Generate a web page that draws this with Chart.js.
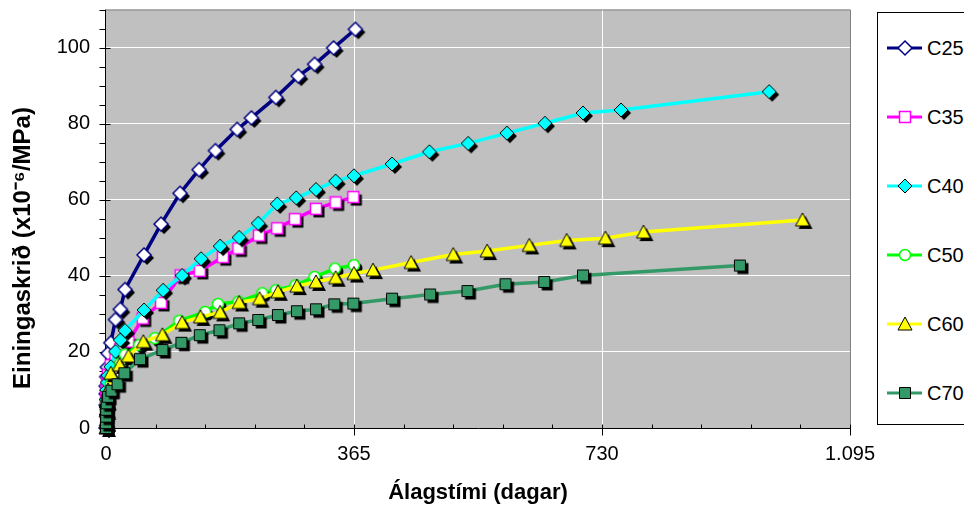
<!DOCTYPE html>
<html><head><meta charset="utf-8">
<script src="https://cdn.jsdelivr.net/npm/chart.js@4"></script>
<style>
html,body{margin:0;padding:0;background:#fff;}
#wrap{position:relative;width:964px;height:506px;overflow:hidden;}
#c{position:absolute;left:0;top:0;}
#legend{position:absolute;left:877px;top:12px;width:120px;height:413px;border:1px solid #000;background:#fff;box-sizing:border-box;}
.lc{position:absolute;left:886px;}
.lt{position:absolute;left:927px;font:20px "Liberation Sans",Arial,sans-serif;line-height:24px;color:#000;white-space:nowrap;}
</style></head><body>
<div id="wrap"><canvas id="c" width="964" height="506"></canvas><div id="legend"></div></div>
<script>
// ---- data ----
const seriesNames = ['C25','C35','C40','C50','C60','C70'];
const c25Days   = [0,0.04,0.1,0.25,1,2,3,7,14,21,28,56,81,109,137,161,193,214,250,283,307,335,367];
const c25Values = [0,6,9,11,13.5,16,19.6,22.4,28.5,31.2,36.4,45.5,53.6,61.7,67.9,72.9,78.5,81.5,86.9,92.5,95.6,99.9,104.8];
const c35Days   = [0,0.04,0.1,0.25,1,2,3,7,14,21,33,54,81,110,138,172,195,225,252,278,309,338,364];
const c35Values = [0,4,6,8,10.5,12.5,14,16.5,19,20.8,22.7,28.8,32.9,40.1,41.3,44.9,47.2,50.6,52.5,54.9,57.6,59.3,60.7];
const c40Days   = [0,0.04,0.1,0.25,1,2,3,7,14,21,28,56,84,112,140,168,196,224,252,280,309,338,365,421,476,533,590,646,702,758,976];
const c40Values = [0,3.5,5.5,7.5,10,12,13.8,16.1,20.1,23.1,25.6,31.0,36.2,40.1,44.5,47.8,50.1,53.8,58.9,60.5,62.7,64.9,66.3,69.4,72.6,74.8,77.5,80.1,82.8,83.6,88.4];
const c50Days   = [0,0.04,0.25,1,3,7,14,21,28,49,72,108,146,165,195,230,250,279,307,337,365];
const c50Values = [0,2.5,4.5,6.5,9,11.5,14.5,17,19.3,21.8,23.6,28.2,30.5,32.6,33.2,35.4,36.2,37.5,39.7,41.9,42.8];
const c60Days   = [0,0.04,0.25,1,3,7,20,33,55,83,112,139,168,196,226,253,281,309,338,365,393,449,511,561,623,678,735,791,1025];
const c60Values = [0,2,4.5,7,10,14.4,16.6,18.9,22.7,24.5,27.7,29.2,30.4,33.0,34.0,35.8,37.3,38.4,39.5,40.6,41.5,43.5,45.6,46.5,48.0,49.3,49.9,51.5,54.7];
const c70Days   = [0,0.04,0.1,0.25,1,3,8,17,27,50,83,111,138,167,196,224,253,281,309,336,364,421,477,532,588,645,702,933];
const c70Values = [0,1.3,3.0,4.8,6.5,8.2,9.8,11.5,14.4,18.1,20.5,22.4,24.4,25.7,27.5,28.4,29.7,30.7,31.2,32.5,32.7,34.0,35.1,36.0,37.8,38.4,40.1,42.7];
const xTickValues = [0,365,730,1095];
const xTickLabels = ['0','365','730','1.095'];
const yTickValues = [0,20,40,60,80,100];
const yTickLabels = ['0','20','40','60','80','100'];
const xTitle = 'Álagstími (dagar)';
const yTitle = 'Einingaskrið (x10⁻⁶/MPa)';

// ---- styles ----
const FONT = '"Liberation Sans", Arial, sans-serif';
const styles = [
  {line:'#000080', shape:'diamond',  fill:'#FFFFFF', stroke:'#000080', size:14},
  {line:'#FF00FF', shape:'square',   fill:'#FFFFFF', stroke:'#FF00FF', size:12},
  {line:'#00FFFF', shape:'diamond',  fill:'#00FFFF', stroke:'#000000', size:14},
  {line:'#00FF00', shape:'circle',   fill:'#FFFFFF', stroke:'#00FF00', size:12},
  {line:'#FFFF00', shape:'triangle', fill:'#FFFF00', stroke:'#000000', size:14},
  {line:'#339966', shape:'square',   fill:'#339966', stroke:'#000000', size:12}
];
const allDays = [c25Days,c35Days,c40Days,c50Days,c60Days,c70Days];
const allValues = [c25Values,c35Values,c40Values,c50Values,c60Values,c70Values];

function makeMarker(st, shadow) {
  const pad = 5;
  const dim = st.size + 2*pad;
  const cv = document.createElement('canvas'); cv.width = dim; cv.height = dim;
  const g = cv.getContext('2d');
  const cx = dim/2, cy = dim/2, h = st.size/2;
  const path = (ox, oy) => {
    g.beginPath();
    const x = cx+ox, y = cy+oy;
    if (st.shape === 'diamond') { g.moveTo(x, y-h); g.lineTo(x+h, y); g.lineTo(x, y+h); g.lineTo(x-h, y); g.closePath(); }
    else if (st.shape === 'square') { g.rect(x-h+0.5, y-h+0.5, st.size-1, st.size-1); }
    else if (st.shape === 'circle') { g.arc(x, y, h-0.5, 0, Math.PI*2); }
    else { g.moveTo(x, y-h); g.lineTo(x+h, y+h-1); g.lineTo(x-h, y+h-1); g.closePath(); }
  };
  if (shadow) { path(3, 3); g.fillStyle = '#000'; g.fill(); }
  path(0, 0); g.fillStyle = st.fill; g.fill(); g.lineWidth = st.stroke === '#000000' ? 1 : 1.5; g.strokeStyle = st.stroke; g.stroke();
  return cv;
}

const datasets = seriesNames.map((name, i) => ({
  label: name,
  data: allDays[i].map((d, k) => ({x: d, y: allValues[i][k]})),
  showLine: true,
  borderColor: styles[i].line,
  backgroundColor: styles[i].line,
  borderWidth: 3.5,
  tension: 0,
  pointStyle: makeMarker(styles[i], true),
  pointRadius: 6,
  clip: false,
  order: seriesNames.length - i
}));

const bgPlugin = {
  id: 'bg',
  beforeDraw(ch) {
    const {left, right, top, bottom} = ch.chartArea;
    ch.ctx.save(); ch.ctx.fillStyle = '#C0C0C0'; ch.ctx.fillRect(left, top, right-left, bottom-top); ch.ctx.restore();
  }
};
const axisPlugin = {
  id: 'axes',
  beforeDatasetsDraw(ch) {
    const {left, right, top, bottom} = ch.chartArea;
    const g = ch.ctx, xs = ch.scales.x, ys = ch.scales.y;
    g.save();
    g.lineWidth = 1;
    g.strokeStyle = '#808080';
    g.beginPath(); g.moveTo(left, top+0.5); g.lineTo(right+0.5, top+0.5); g.lineTo(right+0.5, bottom); g.stroke();
    g.strokeStyle = '#000';
    const ax = Math.round(left) - 0.5, ay = Math.round(bottom) + 0.5;
    g.beginPath(); g.moveTo(ax, top); g.lineTo(ax, ay); g.lineTo(right+1, ay); g.stroke();
    g.beginPath();
    xs.ticks.forEach(t => {
      const px = Math.round(xs.getPixelForValue(t.value)) + 0.5;
      const major = xTickValues.includes(t.value);
      g.moveTo(px, ay - 4); g.lineTo(px, major ? ay + 7 : ay);
    });
    ys.ticks.forEach(t => {
      const py = Math.round(ys.getPixelForValue(t.value)) + 0.5;
      const major = yTickValues.includes(t.value);
      g.moveTo(ax - 6, py); g.lineTo(major ? ax + 5 : ax, py);
    });
    g.stroke();
    g.restore();
  }
};
const yTitlePlugin = {
  id: 'ytitle',
  afterDraw(ch) {
    const g = ch.ctx;
    g.save(); g.translate(23, 248); g.rotate(-Math.PI/2);
    g.font = 'bold 24px ' + FONT; g.fillStyle = '#000'; g.textAlign = 'center'; g.textBaseline = 'middle';
    g.fillText(yTitle, 0, 0); g.restore();
  }
};

new Chart(document.getElementById('c'), {
  type: 'scatter',
  data: { datasets },
  options: {
    responsive: false, animation: false,
    layout: { padding: { left: 0, top: 8, right: 114, bottom: 0 } },
    plugins: { legend: { display: false }, tooltip: { enabled: false } },
    scales: {
      x: {
        type: 'linear', min: 0, max: 1095,
        ticks: { stepSize: 73, autoSkip: false, maxRotation: 0, font: { size: 20, family: FONT }, color: '#000', padding: 14,
          callback: v => { const i = xTickValues.indexOf(v); return i >= 0 ? xTickLabels[i] : ''; } },
        grid: { drawTicks: false, lineWidth: 1, color: c => (c.tick && (c.tick.value === 365 || c.tick.value === 730)) ? '#FFFFFF' : 'rgba(0,0,0,0)' },
        border: { display: false },
        title: { display: true, text: xTitle, font: { size: 22, weight: 'bold', family: FONT }, color: '#000', padding: { top: 0, bottom: 0 } },
        afterFit: s => { s.height = 78; s.paddingLeft = 0; s.paddingRight = 0; }
      },
      y: {
        type: 'linear', min: 0, max: 110,
        ticks: { stepSize: 5, autoSkip: false, font: { size: 20, family: FONT }, color: '#000', padding: 16,
          callback: v => { const i = yTickValues.indexOf(v); return i >= 0 ? yTickLabels[i] : ''; } },
        grid: { drawTicks: false, lineWidth: 1, color: c => (c.tick && c.tick.value > 0 && c.tick.value <= 100 && c.tick.value % 20 === 0) ? '#FFFFFF' : 'rgba(0,0,0,0)' },
        border: { display: false },
        afterFit: s => { s.width = 106; s.paddingTop = 0; s.paddingBottom = 0; }
      }
    }
  },
  plugins: [bgPlugin, axisPlugin, yTitlePlugin]
});

// ---- legend ----
const wrap = document.getElementById('wrap');
const rowCenters = [48, 117, 186, 255, 324, 393];
seriesNames.forEach((name, i) => {
  const cv = document.createElement('canvas'); cv.width = 40; cv.height = 24; cv.className = 'lc';
  cv.style.top = (rowCenters[i] - 12) + 'px';
  const g = cv.getContext('2d');
  g.strokeStyle = styles[i].line; g.lineWidth = 3;
  g.beginPath(); g.moveTo(1, 12); g.lineTo(36, 12); g.stroke();
  const m = makeMarker(styles[i], false);
  g.drawImage(m, 19 - m.width/2, 12 - m.height/2);
  wrap.appendChild(cv);
  const sp = document.createElement('span'); sp.className = 'lt'; sp.textContent = name;
  sp.style.top = (rowCenters[i] - 12) + 'px';
  wrap.appendChild(sp);
});
</script>
</body></html>
